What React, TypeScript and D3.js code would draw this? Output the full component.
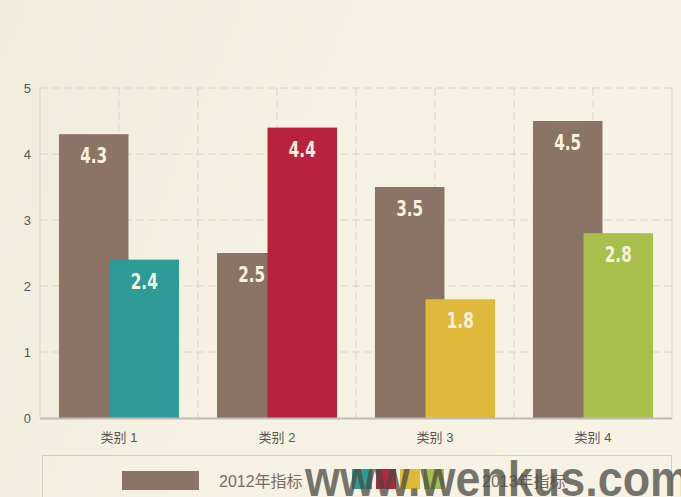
import React from "react";
import * as d3 from "d3";

const categories = ["类别 1", "类别 2", "类别 3", "类别 4"];
const values2012 = [4.3, 2.5, 3.5, 4.5];
const values2013 = [2.4, 4.4, 1.8, 2.8];
const colors2013 = ["#2e9c96", "#b9223c", "#e0b83a", "#a9bf4b"];
const yTicks = [0, 1, 2, 3, 4, 5];
const seriesNames = ["2012年指标", "2013年指标"];

const W = 681;
const H = 497;
const brown = "#8b7365";

export default function App() {
  const x = d3.scaleBand<string>().domain(categories).range([40, 672]).padding(0);
  const y = d3.scaleLinear().domain([0, 5]).range([418, 88]);
  const bw = x.bandwidth();
  const gridColor = "#dad6c6";
  const labelFont = "Impact, 'DejaVu Sans', sans-serif";

  return (
    <svg width={W} height={H} style={{ position: "absolute", left: 0, top: 0, display: "block" }}>
      <defs>
        <linearGradient id="bg" x1="0" y1="0" x2="1" y2="0.3">
          <stop offset="0" stopColor="#f0ecdc" />
          <stop offset="0.5" stopColor="#f5f2e3" />
          <stop offset="1" stopColor="#f6f3e5" />
        </linearGradient>
      </defs>
      <rect x={0} y={0} width={W} height={H} fill="url(#bg)" />

      {/* horizontal grid */}
      {yTicks.slice(1).map((t) => (
        <line key={"h" + t} x1={40} x2={672} y1={y(t)} y2={y(t)} stroke={gridColor} strokeWidth={1} strokeDasharray="8,4" />
      ))}
      {/* vertical grid */}
      {categories.map((c, i) => (
        <g key={"v" + c}>
          {i > 0 && (
            <line x1={x(c)!} x2={x(c)!} y1={88} y2={418} stroke={gridColor} strokeDasharray="8,4" />
          )}
          <line x1={x(c)! + bw / 2} x2={x(c)! + bw / 2} y1={88} y2={418} stroke={gridColor} strokeDasharray="8,4" />
        </g>
      ))}
      <line x1={40} x2={40} y1={88} y2={418} stroke={gridColor} />
      <line x1={672} x2={672} y1={88} y2={418} stroke={gridColor} />

      {/* bars */}
      {categories.map((c, i) => {
        const x0 = x(c)!;
        const b1x = x0 + bw * 0.12;
        const b2x = x0 + bw * 0.44;
        const bwid = bw * 0.44;
        return (
          <g key={"b" + c}>
            <rect x={b1x} y={y(values2012[i])} width={bwid} height={y(0) - y(values2012[i])} fill={brown} />
            <rect x={b2x} y={y(values2013[i])} width={bwid} height={y(0) - y(values2013[i])} fill={colors2013[i]} />
          </g>
        );
      })}
      {/* labels */}
      {categories.map((c, i) => {
        const x0 = x(c)!;
        const bwid = bw * 0.44;
        const b1c = x0 + bw * 0.12 + bwid / 2;
        const b2c = x0 + bw * 0.44 + bwid / 2;
        return (
          <g key={"l" + c} fontFamily={labelFont} fontWeight="bold" fontSize={22} fill="#f7f2dc" textAnchor="middle">
            <text x={b1c} y={y(values2012[i]) + 29} textLength={27} lengthAdjust="spacingAndGlyphs">{values2012[i].toFixed(1)}</text>
            <text x={b2c} y={y(values2013[i]) + 29} textLength={27} lengthAdjust="spacingAndGlyphs">{values2013[i].toFixed(1)}</text>
          </g>
        );
      })}

      {/* axis */}
      <line x1={40} x2={672} y1={418.5} y2={418.5} stroke="#bdbbb3" strokeWidth={2} />
      {yTicks.map((t) => (
        <text key={"yt" + t} x={31} y={y(t) + 5} textAnchor="end" fontFamily="'Liberation Sans', Arial, sans-serif" fontSize={13} fill="#555">
          {t}
        </text>
      ))}
      {categories.map((c) => (
        <text key={"xt" + c} x={x(c)! + bw / 2} y={442} textAnchor="middle" fontFamily="'Liberation Sans', 'Noto Sans CJK SC', sans-serif" fontSize={13} fill="#555">
          {c}
        </text>
      ))}

      {/* legend */}
      <rect x={42.5} y={455.5} width={629} height={60} fill="none" stroke="#d6ccbd" />
      <rect x={122} y={471} width={77} height={19} fill={brown} />
      <text x={219} y={487} fontFamily="'Liberation Sans', 'Noto Sans CJK SC', sans-serif" fontSize={16} fill="#7d6a5e">
        {seriesNames[0]}
      </text>
      {colors2013.map((col, i) => (
        <rect key={"lg" + i} x={352 + i * 24} y={469} width={20} height={20} fill={col} />
      ))}
      <text x={482} y={487} fontFamily="'Liberation Sans', 'Noto Sans CJK SC', sans-serif" fontSize={16} fill="#7d6a5e">
        {seriesNames[1]}
      </text>

      {/* watermark */}
      <text x={305} y={496} fontFamily="'Liberation Sans', Arial, sans-serif" fontWeight="bold" fontSize={50} fill="#4a4a42" fillOpacity={0.75} textLength={385} lengthAdjust="spacingAndGlyphs">
        www.wenkus.com
      </text>
    </svg>
  );
}
